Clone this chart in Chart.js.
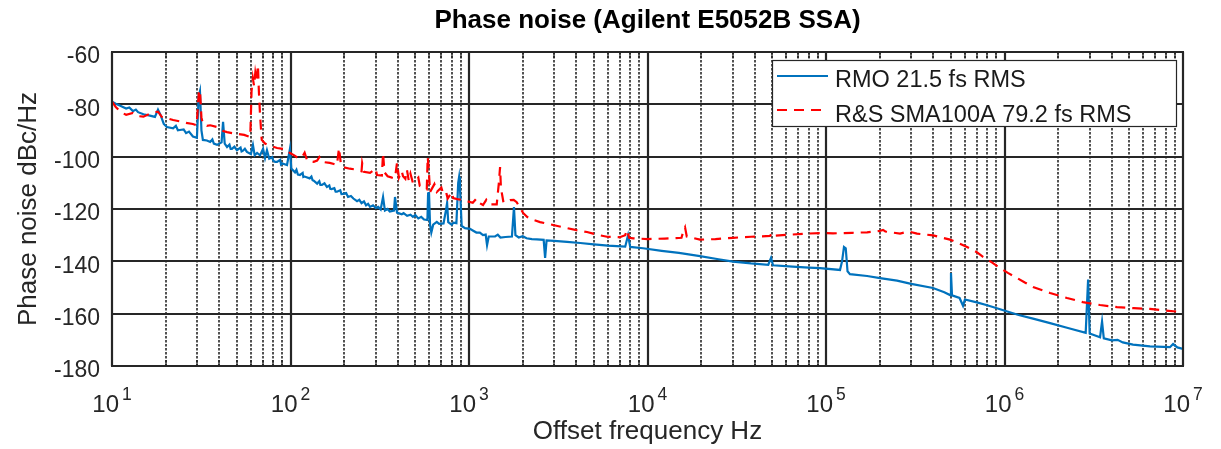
<!DOCTYPE html>
<html><head><meta charset="utf-8">
<script src="https://cdn.jsdelivr.net/npm/chart.js@4.4.1/dist/chart.umd.min.js"></script>
<style>html,body{margin:0;padding:0;background:#fff;}</style>
</head><body>
<canvas id="c" width="1221" height="449"></canvas>
<script>
const titleText = 'Phase noise (Agilent E5052B SSA)';
const xAxisTitle = 'Offset frequency Hz';
const yAxisTitle = 'Phase noise dBc/Hz';
const seriesNames = ['RMO 21.5 fs RMS', 'R&S SMA100A 79.2 fs RMS'];
const xTickExponents = [1, 2, 3, 4, 5, 6, 7];
const yTickValues = [-180, -160, -140, -120, -100, -80, -60];

const rmoFreq = [10,10.5,11.2,12,12.5,13.1,13.6,14,15,16.3,17.4,18.1,18.7,19.5,20.3,22,22.8,23.4,24,25.2,26,27,28.4,29.9,30.6,31.1,31.7,32.3,34,35.5,36.5,37.2,38.8,41.1,41.9,42.8,44.1,45.5,46.2,47,48.5,50.1,52.5,53.2,54,55.5,57,60,61.6,63,65,67.5,70.2,72,73.8,76,79,80,82,84.1,87.5,88.5,90,95.6,99.3,101,106,108,110,113,117,118,120,128,131,133,135,141,145,147,150,155,160,165,167,170,176,179,182,190,193,197,205,210,218,225,236,243,250,258,265,272,279,290,300,310,320,330,338,350,360,380,385,395,420,430,450,470,485,500,520,540,560,585,590,597,605,615,630,660,680,720,745,754,765,800,820,850,870,880,890,910,950,1013,1050,1100,1150,1198,1240,1262,1290,1400,1450,1500,1600,1740,1786,1820,1900,2000,2100,2250,2400,2620,2669,2720,3000,3542,4200,5000,6000,7500,7783,8000,9444,12000,15000,19680,25000,30130,38000,47500,49200,50500,65000,80000,92600,119800,123000,126100,129000,132000,136200,170000,200800,250000,300000,397600,460000,495400,501400,508000,560000,585700,600000,700000,800000,944500,1.2e6,1.445e6,1.8e6,2.24e6,2.85e6,2.94e6,3.0e6,3.43e6,3.52e6,3.6e6,4.0e6,4.3e6,4.6e6,5.25e6,6.53e6,8.45e6,8.8e6,9.3e6,1e7];
const rmoNoise = [-79,-79.8,-80.6,-81.6,-81.2,-82.6,-82,-83,-83.8,-84.3,-84.8,-82,-84,-87.5,-88.7,-89.2,-88.2,-89.9,-89.8,-89.6,-91,-90.4,-92.3,-92.8,-77,-75,-90,-93.6,-93.8,-94.4,-93.4,-95,-95.5,-94.5,-86.7,-95,-96.3,-95.4,-97,-97,-96.2,-97.5,-96.5,-98,-97.8,-97,-98.2,-99,-95.5,-99.5,-98.6,-99.5,-97,-100.5,-97.5,-100.8,-100.2,-101.5,-102,-102,-101.2,-103,-102.6,-103.2,-97,-104.5,-106,-105,-106.8,-107,-106.2,-107.8,-107.6,-108.3,-107.6,-109,-109.2,-110.3,-109.4,-110.8,-110.8,-110.2,-111.6,-111,-112.3,-112.4,-112,-113.4,-113.4,-112.8,-114.3,-114.2,-113.9,-115.4,-115,-116,-117,-116.5,-117.8,-117.1,-118.6,-118,-119.2,-118.6,-119.6,-119.2,-120.2,-115.4,-120.6,-120,-121,-120.6,-115.4,-121.4,-122,-121.6,-122.6,-122.2,-123,-122.3,-123.6,-123,-124,-124.2,-114,-113.9,-126,-129,-126,-124.9,-125.7,-125.5,-120,-117.7,-125,-126,-125.2,-125.4,-110,-107.8,-112,-126.5,-127.3,-127.6,-128.2,-129,-129,-130,-129.8,-133.8,-130.5,-130.5,-129.8,-130.9,-130.7,-130.5,-119.3,-130,-130.9,-130.4,-131.2,-131.5,-131.6,-131.8,-138.7,-132,-132.2,-132.6,-133,-133.5,-134,-134.4,-130,-134.5,-135,-136,-136.8,-138,-139.2,-140.1,-140.8,-141.3,-138.7,-141.5,-142,-142.4,-142.6,-143.3,-140,-134.5,-135,-143.8,-144.9,-145.6,-146.4,-147.4,-148.6,-150.2,-151.8,-152.9,-144.5,-153,-154,-157,-154.6,-155.7,-156.8,-158.3,-160.5,-161.9,-163.6,-165.4,-167.3,-147,-167.6,-169,-163,-169.4,-170.2,-170,-171,-171.8,-172.5,-172.8,-171.6,-172.9,-173.5];

const smaFreq = [10,10.5,11.2,12,13.1,14,15,16.3,17.4,18.1,19,20.3,22,24,26,28.4,29.8,30.6,31.1,31.7,32.3,34,35.5,38.8,42,44.1,47,50.1,55,59.5,60.5,61.5,62.5,63.5,64.5,65.7,66.5,67.5,69,72,76.7,84.1,90.5,95.6,99.3,105,110,116,120,124,135,141,145,150,166,175,182,187,192,197,215,236,250,252,258,279,300,305,325,330,336,350,370,385,395,405,420,427,440,449,460,470,485,520,530,550,580,587,595,605,640,660,700,713,740,760,800,815,860,925,975,1050,1100,1150,1198,1250,1300,1430,1470,1493,1510,1560,1700,1780,1850,1930,2009,2114,2300,2500,3000,3542,4000,4584,5200,5934,7000,7500,7679,7900,8305,10000,12500,15500,15800,16230,16600,19680,24000,30130,38000,48580,50000,52000,63000,78300,95000,109500,140000,169800,200000,208600,215000,259900,290000,323700,397600,495400,550000,616900,700000,758000,850000,944500,1.05e6,1.176e6,1.3e6,1.445e6,1.8e6,2.24e6,2.75e6,3.43e6,4.27e6,5.3e6,6.53e6,8e6,1e7];
const smaNoise = [-79,-81,-83,-84,-83.3,-84.5,-84.7,-83.6,-83,-82.8,-84.8,-85.3,-86,-86.5,-87.1,-87.5,-88,-76,-74.5,-85,-87.5,-88.2,-88,-88.7,-90.2,-90.6,-91,-91.3,-91.7,-92.5,-75,-70,-73,-68,-71,-65,-75,-84,-93.6,-95,-95.8,-96.7,-97,-97.5,-98.6,-99.5,-100.5,-100.2,-98.5,-101.5,-102,-101.5,-100.2,-102,-102.4,-102.8,-103.2,-96.7,-103.5,-104,-104.6,-105,-105.6,-102.5,-105.8,-106.2,-104.6,-107,-107.2,-98.6,-106,-107.5,-108,-108.2,-102.4,-108,-105.5,-107.5,-108.5,-105,-109.2,-106.5,-110,-108,-111.2,-112,-112.5,-100.1,-105,-113.5,-110.5,-113.5,-111.8,-113.6,-113,-116,-113.6,-115.8,-116.2,-116.6,-117,-117.6,-116,-117.8,-118.5,-116.5,-118.2,-118.2,-110,-104,-112,-117.5,-116.6,-116.5,-117.4,-119.5,-121.5,-123,-124.2,-125,-126.2,-127.3,-128.1,-128.8,-129.8,-130.6,-130.8,-130,-128,-131,-131.2,-131.5,-131.3,-131,-129,-127,-130.5,-131.7,-131.5,-131,-130.6,-130.3,-129,-130.2,-129.8,-129.4,-129.2,-129.3,-129.1,-128.9,-128.4,-128,-128.6,-129.4,-128.6,-129.4,-130.1,-131.7,-133,-134.5,-136.5,-138.3,-140.4,-142.6,-144.5,-146.4,-148.1,-149.8,-152.1,-154,-155.6,-156.7,-157.5,-157.9,-158.2,-158.8,-159.4];

const FONT = '"Liberation Sans", Arial, Helvetica, sans-serif';
const rmoColor = '#0072BD';
const smaColor = '#FF0000';
const smaDash = [10, 7];

const toPoints = (fs, vs) => fs.map((f, i) => ({x: f, y: vs[i]}));

const decor = {
  id: 'decor',
  beforeDatasetsDraw(chart) {
    const {ctx, chartArea: a, scales: {x, y}} = chart;
    ctx.save();
    const first = xTickExponents[0], last = xTickExponents[xTickExponents.length - 1];
    ctx.strokeStyle = '#1a1a1a';
    ctx.lineWidth = 1.5;
    ctx.setLineDash([2.5, 1.5]);
    for (let e = first; e < last; e++) {
      for (let m = 2; m <= 9; m++) {
        const px = Math.round(x.getPixelForValue(m * Math.pow(10, e)));
        ctx.beginPath(); ctx.moveTo(px, a.top); ctx.lineTo(px, a.bottom); ctx.stroke();
      }
    }
    ctx.setLineDash([]);
    ctx.lineWidth = 1.2;
    for (let e = first; e < last; e++) {
      for (let m = 2; m <= 9; m++) {
        const px = Math.round(x.getPixelForValue(m * Math.pow(10, e)));
        ctx.beginPath(); ctx.moveTo(px, a.top); ctx.lineTo(px, a.top + 6); ctx.stroke();
        ctx.beginPath(); ctx.moveTo(px, a.bottom); ctx.lineTo(px, a.bottom - 6); ctx.stroke();
      }
    }
    ctx.strokeStyle = '#262626';
    ctx.lineWidth = 2.2;
    xTickExponents.forEach(e => {
      const px = Math.round(x.getPixelForValue(Math.pow(10, e)));
      ctx.beginPath(); ctx.moveTo(px, a.top); ctx.lineTo(px, a.bottom); ctx.stroke();
    });
    yTickValues.forEach(v => {
      const py = Math.round(y.getPixelForValue(v));
      ctx.beginPath(); ctx.moveTo(a.left, py); ctx.lineTo(a.right, py); ctx.stroke();
    });
    ctx.restore();
  },
  afterDatasetsDraw(chart) {
    const {ctx, chartArea: a, scales: {x}} = chart;
    ctx.save();
    ctx.strokeStyle = '#262626';
    ctx.lineWidth = 2;
    ctx.strokeRect(a.left, a.top, a.right - a.left, a.bottom - a.top);
    const lx = a.right - 411, ly = a.top + 8, lw = 404, lh = 66;
    ctx.fillStyle = '#ffffff';
    ctx.fillRect(lx, ly, lw, lh);
    ctx.lineWidth = 1.2;
    ctx.strokeStyle = '#262626';
    ctx.strokeRect(lx + 0.5, ly + 0.5, lw, lh);
    ctx.lineWidth = 2.2;
    ctx.strokeStyle = rmoColor;
    ctx.beginPath(); ctx.moveTo(lx + 5, ly + 16); ctx.lineTo(lx + 56, ly + 16); ctx.stroke();
    ctx.strokeStyle = smaColor;
    ctx.setLineDash(smaDash);
    ctx.beginPath(); ctx.moveTo(lx + 5, ly + 50); ctx.lineTo(lx + 56, ly + 50); ctx.stroke();
    ctx.setLineDash([]);
    ctx.fillStyle = '#1a1a1a';
    ctx.font = '23.5px ' + FONT;
    ctx.textAlign = 'left';
    ctx.textBaseline = 'alphabetic';
    ctx.fillText(seriesNames[0], lx + 63, ly + 27);
    ctx.fillText(seriesNames[1], lx + 63, ly + 62);
    ctx.fillStyle = '#262626';
    xTickExponents.forEach(e => {
      const px = x.getPixelForValue(Math.pow(10, e));
      ctx.font = '24px ' + FONT;
      const wb = ctx.measureText('10').width;
      ctx.font = '17.5px ' + FONT;
      const we = ctx.measureText(String(e)).width;
      const gap = 3;
      const sx = px - (wb + gap + we) / 2;
      ctx.font = '24px ' + FONT;
      ctx.fillText('10', sx, a.bottom + 46);
      ctx.font = '17.5px ' + FONT;
      ctx.fillText(String(e), sx + wb + gap, a.bottom + 34);
    });
    ctx.fillStyle = '#000000';
    ctx.font = 'bold 26px ' + FONT;
    ctx.textAlign = 'center';
    ctx.fillText(titleText, (a.left + a.right) / 2, 28);
    ctx.restore();
  }
};

new Chart(document.getElementById('c'), {
  type: 'line',
  data: {
    datasets: [
      {label: seriesNames[0], data: toPoints(rmoFreq, rmoNoise), borderColor: rmoColor, borderWidth: 2.2, pointRadius: 0, tension: 0, order: 1},
      {label: seriesNames[1], data: toPoints(smaFreq, smaNoise), borderColor: smaColor, borderWidth: 2.2, borderDash: smaDash, pointRadius: 0, tension: 0, order: 0}
    ]
  },
  options: {
    responsive: false,
    animation: false,
    devicePixelRatio: 1,
    layout: {padding: {top: 52, right: 38, bottom: 0, left: 0}},
    plugins: {legend: {display: false}, title: {display: false}, tooltip: {enabled: false}},
    scales: {
      x: {
        type: 'logarithmic', min: 10, max: 1e7,
        ticks: {display: false},
        grid: {display: false, drawTicks: false},
        border: {display: false},
        title: {display: true, text: xAxisTitle, color: '#262626', font: {family: FONT, size: 26}, padding: {top: 0, bottom: 1.5}},
        afterFit(s) { s.height = 83; }
      },
      y: {
        min: -180, max: -60,
        afterBuildTicks(s) { s.ticks = yTickValues.map(v => ({value: v})); },
        ticks: {color: '#262626', font: {family: FONT, size: 23}, padding: 12, labelOffset: 5},
        grid: {display: false, drawTicks: false},
        border: {display: false},
        title: {display: true, text: yAxisTitle, color: '#262626', font: {family: FONT, size: 26}, padding: {top: 13, bottom: 0}},
        afterFit(s) { s.width = 112; }
      }
    }
  },
  plugins: [decor]
});
</script>
</body></html>
